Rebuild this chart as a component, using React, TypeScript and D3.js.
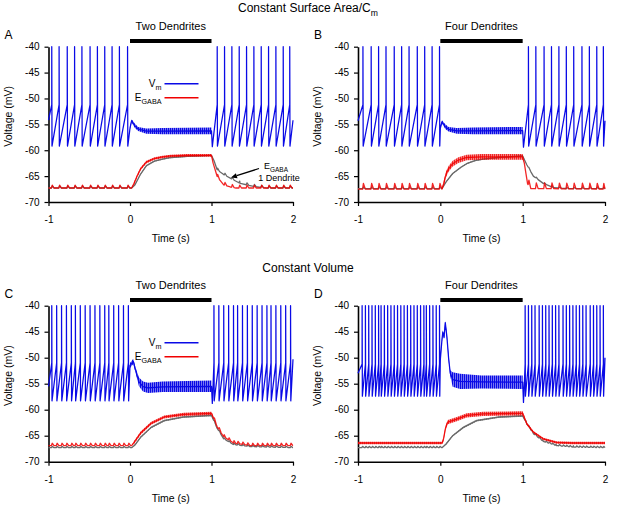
import { useEffect, useRef } from 'react'
import * as d3 from 'd3'

const W = 617
const H = 508

const groupTitles = ['Constant Surface Area/C', 'Constant Volume']
const panelLetters = ['A', 'B', 'C', 'D']
const panelTitles = ['Two Dendrites', 'Four Dendrites', 'Two Dendrites', 'Four Dendrites']
const xTicks = [-1, 0, 1, 2]
const yTicks = [-40, -45, -50, -55, -60, -65, -70]
const stimOn = 0
const stimOff = 1
const spikePeak = -40

// spike times (s)
const spikesA = [-0.96, -0.87, -0.77, -0.68, -0.59, -0.49, -0.40, -0.31, -0.22, -0.13, -0.03,
  1.07, 1.16, 1.25, 1.34, 1.43, 1.52, 1.61, 1.70, 1.79, 1.88, 1.96]
const spikesB = [-0.94, -0.84, -0.75, -0.66, -0.56, -0.47, -0.38, -0.28, -0.19, -0.10, -0.01,
  1.07, 1.16, 1.26, 1.35, 1.44, 1.53, 1.62, 1.72, 1.81, 1.90, 1.98]
const spikesC = [-0.96, -0.90, -0.84, -0.78, -0.72, -0.67, -0.61, -0.55, -0.49, -0.43, -0.37, -0.31, -0.26, -0.20, -0.14, -0.08, -0.02,
  1.03, 1.09, 1.15, 1.21, 1.27, 1.32, 1.38, 1.44, 1.50, 1.56, 1.62, 1.68, 1.73, 1.79, 1.85, 1.91, 1.97]
const spikesD = [-0.95, -0.91, -0.87, -0.83, -0.79, -0.75, -0.72, -0.68, -0.64, -0.60, -0.56, -0.52, -0.48, -0.44, -0.40, -0.36, -0.32, -0.28, -0.24, -0.20, -0.17, -0.13, -0.09, -0.05, -0.01,
  1.03, 1.07, 1.11, 1.15, 1.20, 1.24, 1.28, 1.32, 1.36, 1.40, 1.44, 1.49, 1.53, 1.57, 1.61, 1.65, 1.69, 1.73, 1.77, 1.82, 1.86, 1.90, 1.94, 1.98]

const vmStart = [-54.2, -54.3, -55.5, -53]
const vmEnd = [-54.2, -54.3, -50.3, -50]
const vmReset = [-59.2, -59.2, -58.3, -57.4]
const vmThreshold = [-51.2, -51.2, -51, -51.2]
const vmDip = [-59.3, -59.4, -58.8, -58.6]

// Vm envelope during GABA application
const bandTimeA = [0.0, 0.02, 0.03, 0.06, 0.1, 0.2, 0.4, 1.0]
const bandHiA = [-55.5, -54.0, -54.2, -54.9, -55.5, -55.8, -55.7, -55.6]
const bandLoA = [-56.0, -54.6, -54.9, -55.7, -56.3, -56.8, -56.9, -56.9]
const bandTimeB = [0.0, 0.02, 0.03, 0.06, 0.1, 0.2, 0.4, 1.0]
const bandHiB = [-55.5, -54.2, -54.4, -55.0, -55.5, -55.7, -55.6, -55.5]
const bandLoB = [-56.0, -54.8, -55.1, -55.9, -56.4, -56.8, -56.9, -56.9]
const bandTimeC = [0.0, 0.04, 0.07, 0.11, 0.16, 0.22, 0.4, 1.0]
const bandHiC = [-51.0, -50.2, -52.0, -53.8, -54.6, -54.8, -54.6, -54.4]
const bandLoC = [-52.0, -51.2, -53.0, -55.5, -56.5, -56.8, -56.6, -56.6]
const bandTimeD = [0.0, 0.02, 0.03, 0.045, 0.06, 0.08, 0.1, 0.12, 0.15, 0.24, 0.5, 1.0]
const bandHiD = [-50.0, -46.0, -44.7, -45.7, -42.9, -45.5, -49.5, -52.4, -52.8, -53.1, -53.4, -53.4]
const bandLoD = [-50.8, -47.0, -45.5, -46.5, -43.6, -46.5, -50.5, -53.5, -55.6, -56.0, -55.9, -56.0]

// E_GABA: red = this geometry, gray = 1 dendrite
const redTimeA = [-1, 0.02, 0.05, 0.09, 0.13, 0.2, 0.3, 0.4, 0.5, 0.7, 1.0, 1.02, 1.07, 1.15, 1.23, 1.3, 2.0]
const redA = [-67.3, -67.3, -66.4, -64.9, -63.6, -62.3, -61.6, -61.3, -61.1, -61.0, -61.0, -62.5, -65.1, -66.7, -67.1, -67.3, -67.3]
const grayTimeA = [-1, 0.02, 0.06, 0.1, 0.13, 0.2, 0.3, 0.4, 0.5, 0.7, 1.0, 1.03, 1.07, 1.15, 1.23, 1.35, 1.52, 1.68, 2.0]
const grayA = [-67.3, -67.3, -66.7, -65.5, -64.6, -63.0, -62.1, -61.7, -61.4, -61.2, -61.0, -62.0, -63.8, -64.7, -65.4, -66.4, -67.0, -67.3, -67.3]
const redTimeB = [-1, 0.02, 0.04, 0.07, 0.1, 0.15, 0.22, 0.32, 0.5, 1.0, 1.02, 1.04, 1.06, 1.1, 2.0]
const redB = [-67.5, -67.5, -66.5, -64.6, -63.6, -62.6, -61.9, -61.4, -61.3, -61.3, -62.5, -64.5, -66.5, -67.4, -67.5]
const grayTimeB = [-1, 0.02, 0.07, 0.15, 0.25, 0.32, 0.42, 0.52, 0.7, 0.92, 1.0, 1.05, 1.13, 1.25, 1.37, 1.53, 2.0]
const grayB = [-67.4, -67.4, -66.1, -64.5, -63.3, -62.6, -62.0, -61.7, -61.4, -61.2, -61.1, -62.8, -65.0, -66.4, -67.2, -67.4, -67.4]
const redTimeC = [-1, 0.02, 0.05, 0.13, 0.26, 0.42, 0.66, 1.0, 1.07, 1.15, 1.27, 1.48, 2.0]
const redC = [-66.9, -66.9, -66.3, -64.5, -62.6, -61.4, -60.9, -60.7, -63.3, -65.2, -66.4, -66.9, -66.9]
const grayTimeC = [-1, 0.02, 0.06, 0.13, 0.26, 0.42, 0.66, 1.0, 1.07, 1.15, 1.27, 1.48, 2.0]
const grayC = [-67.3, -67.3, -66.8, -65.3, -63.4, -62.1, -61.4, -61.1, -63.6, -65.6, -66.7, -67.1, -67.3]
const redTimeD = [-1, 0.02, 0.035, 0.065, 0.09, 0.2, 0.32, 0.52, 0.97, 1.0, 1.05, 1.13, 1.25, 1.41, 1.6, 2.0]
const redD = [-66.4, -66.4, -65.9, -63.4, -62.4, -61.8, -61.1, -60.8, -60.7, -60.7, -62.7, -64.3, -65.6, -66.3, -66.4, -66.4]
const grayTimeD = [-1, 0.02, 0.07, 0.15, 0.28, 0.44, 0.72, 1.0, 1.05, 1.13, 1.25, 1.41, 1.62, 2.0]
const grayD = [-67.3, -67.3, -66.6, -65.0, -63.4, -62.1, -61.4, -61.2, -62.7, -64.6, -66.1, -66.9, -67.2, -67.3]

const redRippleStim = [0.5, 1.1, 0.6, 0.8]
const redRippleRest = [0, 0, 0, 0.45]
const grayRippleStim = [0.25, 0.25, 0.3, 0.3]
const redBump = [0.55, 1.1, 0.45, 0]
const grayBump = [0.4, 0.2, 0.25, 0.25]

const spikes = [spikesA, spikesB, spikesC, spikesD]
const bandTime = [bandTimeA, bandTimeB, bandTimeC, bandTimeD]
const bandHi = [bandHiA, bandHiB, bandHiC, bandHiD]
const bandLo = [bandLoA, bandLoB, bandLoC, bandLoD]
const redTime = [redTimeA, redTimeB, redTimeC, redTimeD]
const redV = [redA, redB, redC, redD]
const grayTime = [grayTimeA, grayTimeB, grayTimeC, grayTimeD]
const grayV = [grayA, grayB, grayC, grayD]

// layout (pixels)
const panelLeft = [48.5, 358, 48.5, 358]
const panelRight = [293, 605, 293, 605]
const panelTop = [46.7, 46.7, 305.7, 305.7]
const panelBottom = [202, 202, 461.7, 461.7]

const FONT = '"Liberation Sans", Arial, Helvetica, sans-serif'
const BLUE = '#0a0ae6'
const RED = '#f00000'
const GRAY = '#6a6a6a'

type Pt = [number, number]

function vmPoints(i: number): Pt[] {
  const s = spikes[i]
  const pts: Pt[] = [[-1, vmStart[i]]]
  const spike = (t: number) => {
    pts.push([t, vmThreshold[i]], [t, spikePeak], [t + 0.003, vmReset[i]])
  }
  s.filter((t) => t < stimOn).forEach(spike)
  bandTime[i].forEach((t, k) => pts.push([t, (bandHi[i][k] + bandLo[i][k]) / 2]))
  pts.push([stimOff + 0.01, vmDip[i]])
  s.filter((t) => t > stimOff).forEach(spike)
  pts.push([2, vmEnd[i]])
  return pts
}

function egabaPoints(ts: number[], vs: number[], bump: number, spikeTimes: number[]): Pt[] {
  const base = d3.scaleLinear().domain(ts).range(vs)
  const pts: Pt[] = ts.map((t, k) => [t, vs[k]])
  if (bump > 0) {
    spikeTimes
      .filter((t) => t < stimOn || t > stimOff)
      .forEach((t) => {
        pts.push([t - 0.004, base(t - 0.004)], [t + 0.006, base(t + 0.006) + bump], [t + 0.028, base(t + 0.028)])
      })
  }
  return pts.filter((p) => p[0] >= -1 && p[0] <= 2).sort((a, b) => a[0] - b[0])
}

function subText(
  g: d3.Selection<SVGGElement, unknown, null, undefined>,
  x: number,
  y: number,
  main: string,
  sub: string,
  size: number,
  anchor: string
) {
  const t = g
    .append('text')
    .attr('x', x)
    .attr('y', y)
    .attr('text-anchor', anchor)
    .style('font-size', size + 'px')
  t.append('tspan').text(main)
  t.append('tspan').style('font-size', size * 0.72 + 'px').attr('dy', size * 0.3).text(sub)
  return t
}

export default function App() {
  const ref = useRef<SVGSVGElement | null>(null)

  useEffect(() => {
    const svg = d3.select(ref.current)
    svg.selectAll('*').remove()

    // comb texture for the fast ripples during GABA application
    const defs = svg.append('defs')
    ;[['combBlue', BLUE], ['combRed', RED], ['combGray', GRAY]].forEach(([id, c]) => {
      const p = defs
        .append('pattern')
        .attr('id', id)
        .attr('patternUnits', 'userSpaceOnUse')
        .attr('width', 2)
        .attr('height', 4)
      p.append('rect').attr('width', 2).attr('height', 4).attr('fill', c).attr('fill-opacity', 0.45)
      p.append('rect').attr('width', 1.2).attr('height', 4).attr('fill', c)
    })

    const root = svg.append('g').style('font-family', FONT).attr('fill', '#000')

    subText(root, 308, 12, groupTitles[0], 'm', 12, 'middle')
    root
      .append('text')
      .attr('x', 308)
      .attr('y', 272)
      .attr('text-anchor', 'middle')
      .style('font-size', '12px')
      .text(groupTitles[1])

    panelLetters.forEach((letter, i) => {
      const x = d3.scaleLinear().domain([-1, 2]).range([panelLeft[i], panelRight[i]])
      const y = d3.scaleLinear().domain([-70, -40]).range([panelBottom[i], panelTop[i]])
      const g = root.append('g')

      // axes
      const xa = g
        .append('g')
        .attr('transform', `translate(0,${panelBottom[i]})`)
        .call(
          d3.axisBottom(x).tickValues(xTicks).tickSize(4).tickSizeOuter(0).tickPadding(10)
            .tickFormat((d) => String(d)) as any
        )
      const ya = g
        .append('g')
        .attr('transform', `translate(${panelLeft[i]},0)`)
        .call(
          d3.axisLeft(y).tickValues(yTicks).tickSize(4).tickSizeOuter(0).tickPadding(5)
            .tickFormat((d) => String(d)) as any
        )
      ;[xa, ya].forEach((a) => {
        a.attr('font-family', FONT).attr('font-size', 10)
        a.select('.domain').attr('stroke', '#000').attr('stroke-width', 1.6)
        a.selectAll('.tick line').attr('stroke', '#000').attr('stroke-width', 1.2)
        a.selectAll('.tick text').attr('fill', '#000')
      })

      g.append('text')
        .attr('x', (panelLeft[i] + panelRight[i]) / 2)
        .attr('y', panelBottom[i] + 40)
        .attr('text-anchor', 'middle')
        .style('font-size', '10.5px')
        .text('Time (s)')
      g.append('text')
        .attr('transform', `translate(${panelLeft[i] - 37},${(panelTop[i] + panelBottom[i]) / 2 - 8}) rotate(-90)`)
        .attr('text-anchor', 'middle')
        .style('font-size', '10.5px')
        .text('Voltage (mV)')

      // panel letter, stimulus bar and label
      g.append('text')
        .attr('x', panelLeft[i] - 44)
        .attr('y', panelTop[i] - 8)
        .style('font-size', '12px')
        .text(letter)
      g.append('rect')
        .attr('x', x(stimOn))
        .attr('y', y(spikePeak) - 7.7)
        .attr('width', x(stimOff) - x(stimOn))
        .attr('height', 4)
        .attr('fill', '#000')
      g.append('text')
        .attr('x', (x(stimOn) + x(stimOff)) / 2)
        .attr('y', panelTop[i] - 16.5)
        .attr('text-anchor', 'middle')
        .style('font-size', '11px')
        .text(panelTitles[i])

      // E_GABA traces
      const line = d3.line<Pt>().x((d) => x(d[0])).y((d) => y(d[1]))
      const drawEgaba = (ts: number[], vs: number[], color: string, comb: string, stimW: number, restW: number, bump: number, op: number) => {
        const half = (t: number) => ((t > 0.02 && t <= stimOff ? stimW : restW) / 2)
        const pts: Pt[] = ts.map((t, k) => [t, vs[k]])
        g.append('path')
          .datum(pts)
          .attr('fill', `url(#${comb})`)
          .attr('fill-opacity', op)
          .attr('d', d3.area<Pt>().x((d) => x(d[0])).y0((d) => y(d[1] - half(d[0]))).y1((d) => y(d[1] + half(d[0]))) as any)
        g.append('path')
          .datum(egabaPoints(ts, vs, bump, spikes[i]))
          .attr('fill', 'none')
          .attr('stroke', color)
          .attr('stroke-opacity', op)
          .attr('stroke-width', 1.3)
          .attr('stroke-linejoin', 'round')
          .attr('d', line as any)
      }
      drawEgaba(grayTime[i], grayV[i], GRAY, 'combGray', grayRippleStim[i], 0, grayBump[i], 1)
      drawEgaba(redTime[i], redV[i], RED, 'combRed', redRippleStim[i], redRippleRest[i], redBump[i], 0.85)

      // membrane potential
      const band: Pt[] = bandTime[i].map((t, k) => [t, k])
      g.append('path')
        .datum(band)
        .attr('fill', 'url(#combBlue)')
        .attr('d', d3.area<Pt>().x((d) => x(d[0])).y0((d) => y(bandLo[i][d[1]])).y1((d) => y(bandHi[i][d[1]])) as any)
      g.append('path')
        .datum(vmPoints(i))
        .attr('fill', 'none')
        .attr('stroke', BLUE)
        .attr('stroke-width', 1.25)
        .attr('stroke-linejoin', 'round')
        .attr('d', line as any)

      // legend in the two-dendrite panels
      if (i === 0 || i === 2) {
        const lx = panelLeft[i] + 113
        const rows: [string, string, string][] = [['V', 'm', BLUE], ['E', 'GABA', RED]]
        rows.forEach(([m, s, c], r) => {
          const ly = panelTop[i] + 37 + r * 14
          subText(g, lx, ly + 3, m, s, 10, 'end')
          g.append('line')
            .attr('x1', lx + 3)
            .attr('x2', lx + 37)
            .attr('y1', ly)
            .attr('y2', ly)
            .attr('stroke', c)
            .attr('stroke-width', 1.5)
        })
      }

      // annotation for the 1-dendrite reference
      if (i === 0) {
        subText(g, 276, 169, 'E', 'GABA', 9, 'middle')
        g.append('text')
          .attr('x', 279)
          .attr('y', 181)
          .attr('text-anchor', 'middle')
          .style('font-size', '9px')
          .text('1 Dendrite')
        const x1 = 259, y1 = 168.5, x2 = 231, y2 = 177.5
        const ang = Math.atan2(y2 - y1, x2 - x1)
        const hl = 6, hw = 2.6
        const bx = x2 - hl * Math.cos(ang), by = y2 - hl * Math.sin(ang)
        g.append('line')
          .attr('x1', x1).attr('y1', y1).attr('x2', bx).attr('y2', by)
          .attr('stroke', '#000').attr('stroke-width', 1.3)
        g.append('path')
          .attr('d', `M${x2},${y2}L${bx - hw * Math.sin(ang)},${by + hw * Math.cos(ang)}L${bx + hw * Math.sin(ang)},${by - hw * Math.cos(ang)}Z`)
          .attr('fill', '#000')
      }
    })
  }, [])

  return (
    <svg
      ref={ref}
      width={W}
      height={H}
      style={{ position: 'absolute', left: 0, top: 0, background: '#fff' }}
    />
  )
}
